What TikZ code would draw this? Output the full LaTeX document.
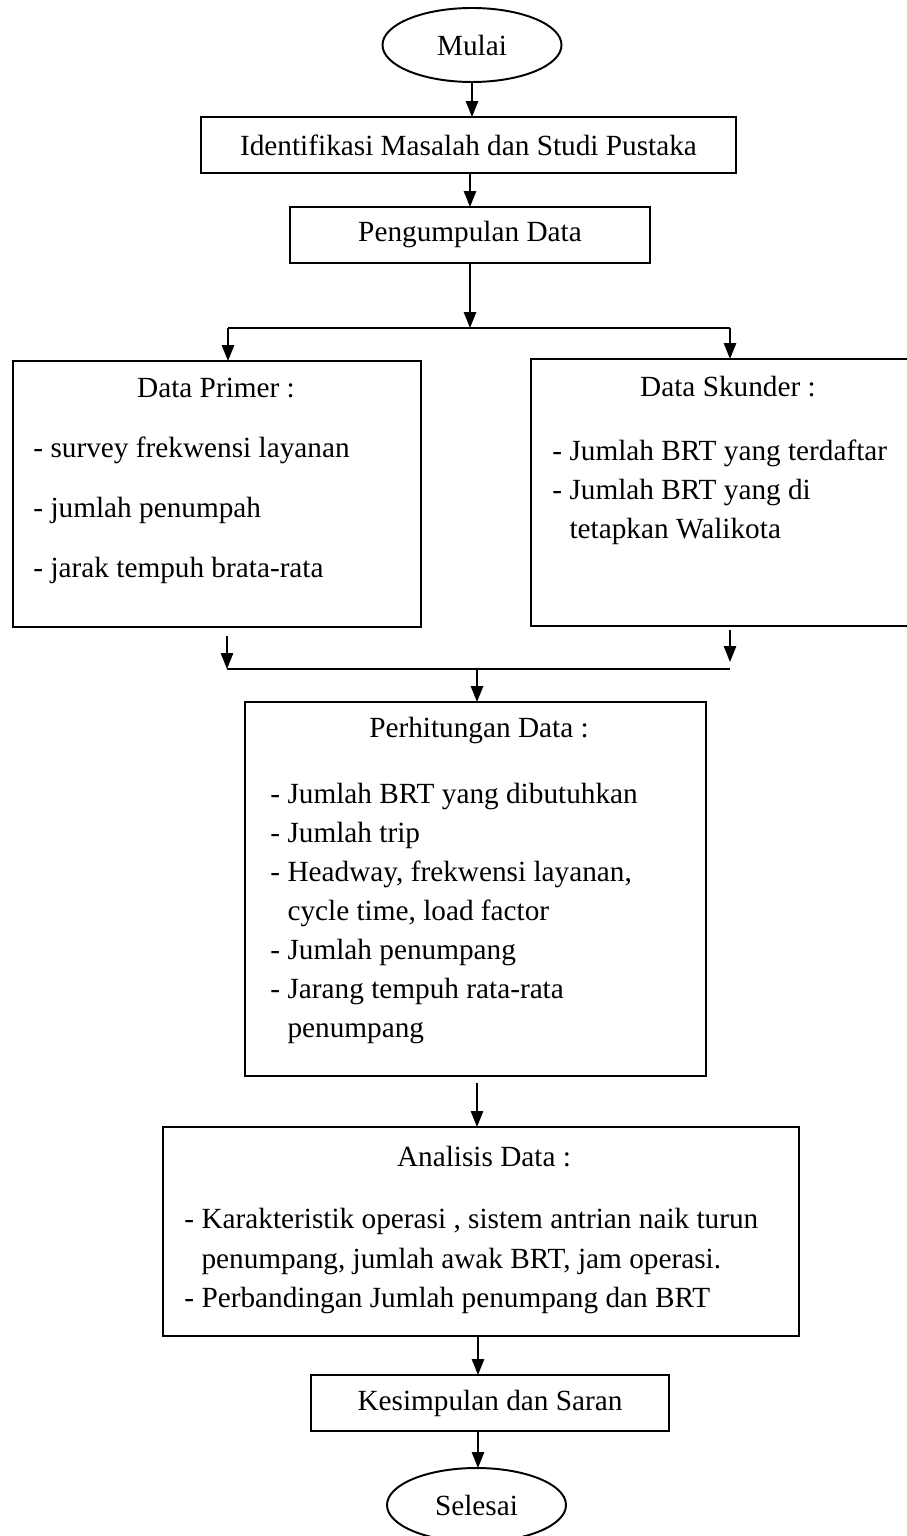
\documentclass[tikz,border=0pt]{standalone}
\usepackage{fontspec}
\setmainfont{Liberation Serif}
\usetikzlibrary{shapes.geometric,arrows.meta}

\tikzset{
	flowbox/.style 2 args={draw,line width=0.8pt,rectangle,inner sep=0pt,outer sep=0pt,
		minimum width={#1*0.41pt},minimum height={#2*0.41pt}},
	terminal/.style={draw,line width=0.8pt,ellipse,inner sep=0pt,outer sep=0pt,
		minimum width={179*0.41pt},minimum height={74*0.41pt}},
	txt/.style={inner sep=0pt,font=\fontsize{12}{16}\selectfont},
	listtxt/.style={txt,anchor=west,align=left},
	arr/.style={line width=0.8pt,-{Triangle[length=6.5pt,width=5pt]}},
	ln/.style={line width=0.8pt}
}

\begin{document}
\begin{tikzpicture}[x=0.41pt,y=-0.41pt]
				\useasboundingbox (0,0) rectangle (907,1536);
				\coordinate (poros) at (478,0);
				
				%% main boxes
				\node[terminal,txt] (mulai) at (472,45) {Mulai};
				\node[flowbox={535}{56},txt] (ident) at (468.5,145) {Identifikasi Masalah dan Studi Pustaka};
				\node[flowbox={360}{56},txt] (kumpul) at (470,235) {Pengumpulan Data};
				\node[flowbox={408}{266}] (primer) at (217,494) {};
				\node[flowbox={389}{267}] (skunder) at (725.5,492.5) {};
				\node[flowbox={461}{374}] (hitung) at (475.5,889) {};
				\node[flowbox={636}{209}] (analisis) at (481,1231.5) {};
				\node[flowbox={358}{56},txt] (simpul) at (490,1403) {Kesimpulan dan Saran};
				\node[terminal,txt] (selesai) at (476.5,1505) {Selesai};
				
				%% texts inside the big boxes
				\node[txt] (primerjudul) at (216,388) {Data Primer :};
				\node[listtxt,font=\fontsize{12}{24.6}\selectfont] (primerisi) at (33,510)
					{- survey frekwensi layanan\\- jumlah penumpah\\- jarak tempuh brata-rata};
				\node[txt] (skunderjudul) at (728,387) {Data Skunder :};
				\node[listtxt] (skunderisi) at (552,492)
					{- Jumlah BRT yang terdaftar\\- Jumlah BRT yang di\\\hphantom{- }tetapkan Walikota};
				\node[txt] (hitungjudul) at (479,730) {Perhitungan Data :};
				\node[listtxt] (hitungisi) at (270,913.5)
					{- Jumlah BRT yang dibutuhkan\\- Jumlah trip\\- Headway, frekwensi layanan,\\\hphantom{- }cycle time, load factor\\- Jumlah penumpang\\- Jarang tempuh rata-rata\\\hphantom{- }penumpang};
				\node[txt] (analisisjudul) at (484,1157) {Analisis Data :};
				\node[listtxt] (analisisisi) at (184,1261)
					{- Karakteristik operasi , sistem antrian naik turun\\\hphantom{- }penumpang, jumlah awak BRT, jam operasi.\\- Perbandingan Jumlah penumpang dan BRT};
				
				%% split and merge points
				\coordinate (pisah) at (470,328);
				\coordinate (pisahkiri) at (228,328);
				\coordinate (pisahkanan) at (730,328);
				\coordinate (primerbawah) at (227,636);
				\coordinate (skunderbawah) at (730,630);
				\coordinate (skunderujung) at (730,662);
				\coordinate (gabungkiri) at (227,669);
				\coordinate (gabungkanan) at (730,669);
				\coordinate (gabung) at (477,669);
				\coordinate (hitungbawah) at (477,1083);
				
				%% connectors
				\draw[arr] (mulai.south) -- (mulai.south |- ident.north);
				\draw[arr] (kumpul.north |- ident.south) -- (kumpul.north);
				\draw[arr] (kumpul.south) -- (pisah);
				\draw[ln] (pisahkiri) -- (pisahkanan);
				\draw[arr] (pisahkiri) -- (pisahkiri |- primer.north);
				\draw[arr] (pisahkanan) -- (pisahkanan |- skunder.north);
				\draw[arr] (primerbawah) -- (gabungkiri);
				\draw[arr] (skunderbawah) -- (skunderujung);
				\draw[ln] (gabungkiri) -- (gabungkanan);
				\draw[arr] (gabung) -- (gabung |- hitung.north);
				\draw[arr] (hitungbawah) -- (hitungbawah |- analisis.north);
				\draw[arr] (analisis.south -| poros) -- (simpul.north -| poros);
				\draw[arr] (simpul.south -| poros) -- (selesai.north -| poros);
\end{tikzpicture}
\end{document}
